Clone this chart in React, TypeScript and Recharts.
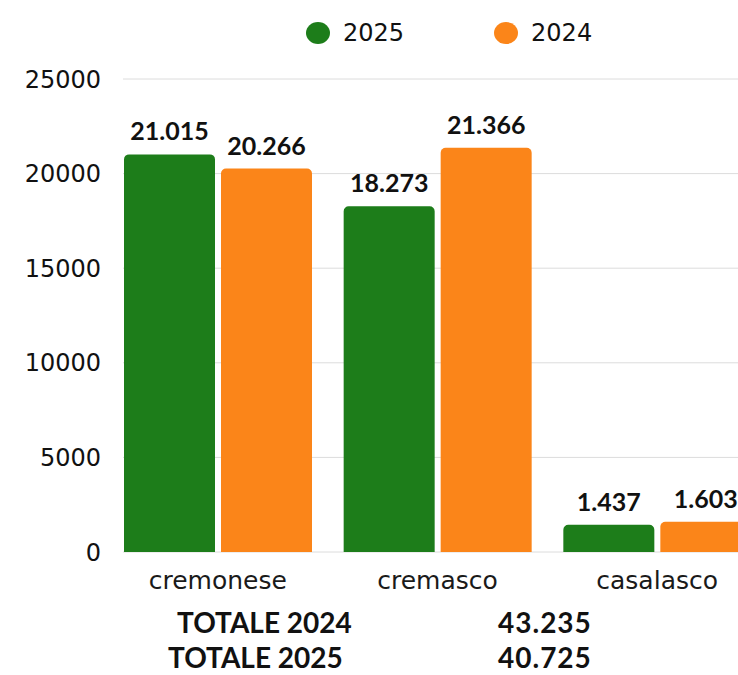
import { BarChart, Bar, XAxis, YAxis, CartesianGrid, LabelList } from "recharts";

// valori
const categories = ["cremonese", "cremasco", "casalasco"];
const values2025 = [21015, 18273, 1437];
const values2024 = [20266, 21366, 1603];
const yTicks = [0, 5000, 10000, 15000, 20000, 25000];
const seriesNames = ["2025", "2024"];
const totals = [
  { label: "TOTALE 2024", value: "43.235" },
  { label: "TOTALE 2025", value: "40.725" },
];

const GREEN = "#1d7d1a";
const ORANGE = "#fb8519";

const chartData = categories.map((name, i) => ({
  name,
  v2025: values2025[i],
  v2024: values2024[i],
}));

const fmt = (v: number) => String(v).replace(/\B(?=(\d{3})+(?!\d))/g, ".");

const labelStyle = { fontFamily: "Lato", fontWeight: 700, fontSize: 25, fill: "#111" };

export default function App() {
  return (
    <div style={{ position: "absolute", left: 0, top: 0, width: 738, height: 675, overflow: "hidden", background: "#fff" }}>
      {/* legenda */}
      <div
        style={{
          position: "absolute",
          top: 19,
          left: 306,
          display: "flex",
          alignItems: "center",
          fontFamily: "DejaVu Sans",
          fontSize: 24,
          color: "#111",
        }}
      >
        <span style={{ width: 24, height: 22, borderRadius: "50%", background: GREEN, display: "inline-block" }} />
        <span style={{ marginLeft: 13, marginRight: 90 }}>{seriesNames[0]}</span>
        <span style={{ width: 24, height: 22, borderRadius: "50%", background: ORANGE, display: "inline-block" }} />
        <span style={{ marginLeft: 13 }}>{seriesNames[1]}</span>
      </div>

      <BarChart
        width={790}
        height={610}
        data={chartData}
        margin={{ top: 79, right: 23, bottom: 18, left: 0 }}
        barGap={6}
        barSize={91}
      >
        <CartesianGrid vertical={false} stroke="#dcdcdc" x={123} width={700} />
        <XAxis
          dataKey="name"
          axisLine={false}
          tickLine={false}
          tickSize={0}
          tickMargin={19}
          height={40}
          tick={{ fontFamily: "DejaVu Sans", fontSize: 25, fill: "#1a1a1a" }}
        />
        <YAxis
          width={108}
          domain={[0, 25000]}
          ticks={yTicks}
          axisLine={false}
          tickLine={false}
          tickSize={0}
          tickMargin={7}
          tick={{ fontFamily: "DejaVu Sans", fontSize: 24, fill: "#111" }}
        />
        <Bar dataKey="v2025" name={seriesNames[0]} fill={GREEN} radius={[5, 5, 0, 0]} isAnimationActive={false}>
          <LabelList dataKey="v2025" position="top" offset={14} formatter={(v: any) => fmt(Number(v))} style={labelStyle} />
        </Bar>
        <Bar dataKey="v2024" name={seriesNames[1]} fill={ORANGE} radius={[5, 5, 0, 0]} isAnimationActive={false}>
          <LabelList dataKey="v2024" position="top" offset={14} formatter={(v: any) => fmt(Number(v))} style={labelStyle} />
        </Bar>
      </BarChart>

      {/* totali */}
      {totals.map((t, i) => (
        <div
          key={t.label}
          style={{
            position: "absolute",
            top: 608 + i * 35,
            left: 0,
            width: 738,
            height: 28,
            fontFamily: "Lato",
            fontWeight: 700,
            fontSize: 28,
            color: "#111",
            lineHeight: "28px",
          }}
        >
          <span style={{ position: "absolute", left: i === 0 ? 177 : 168 }}>{t.label}</span>
          <span style={{ position: "absolute", left: 498, letterSpacing: 1 }}>{t.value}</span>
        </div>
      ))}
    </div>
  );
}
